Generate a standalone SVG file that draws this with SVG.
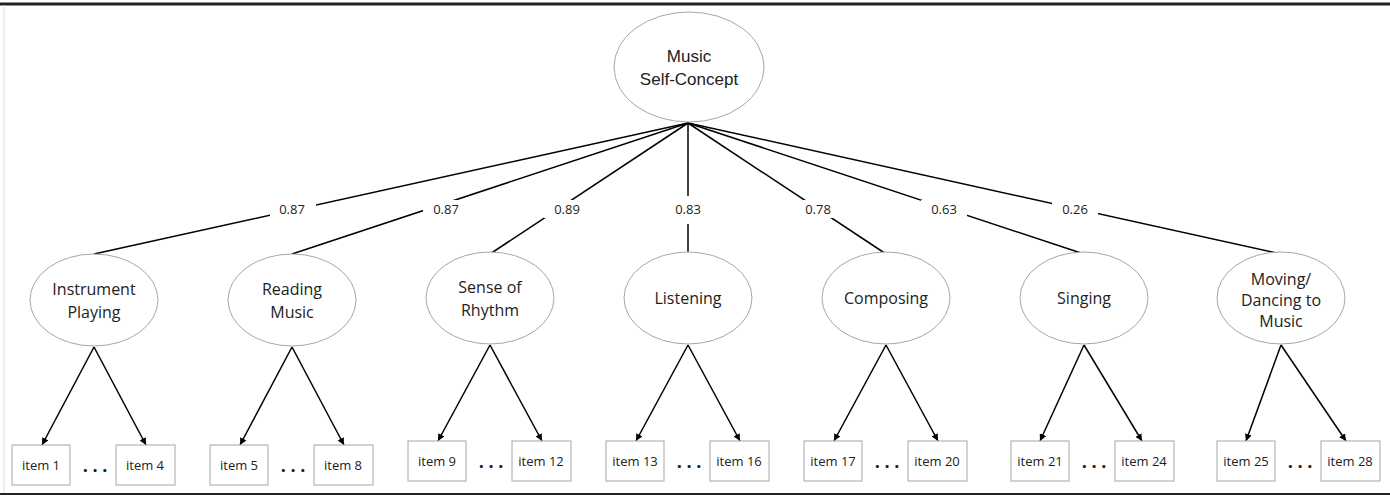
<svg xmlns="http://www.w3.org/2000/svg" width="1390" height="500" viewBox="0 0 1390 500">
<defs>
<marker id="ah" viewBox="0 0 10 10" refX="10" refY="5" markerWidth="7" markerHeight="7" orient="auto" markerUnits="userSpaceOnUse"><path d="M0,0 L10,5 L0,10 z" fill="#000"/></marker>
<style>
.el{fill:#fff;stroke:#a6a6a6;stroke-width:1}
.bx{fill:#fff;stroke:#a6a6a6;stroke-width:1}
.t{font-family:"Open Sans","Liberation Sans",sans-serif;fill:#222;text-anchor:middle}
.n{font-size:16px}
.r{font-size:17px;font-family:"Liberation Sans",sans-serif}
.i{font-size:13px}
.l{font-size:13px}
.d{font-size:18px;font-weight:bold}
.c line{stroke:#000;stroke-width:1.5}
.ar{stroke:#000;stroke-width:1.3;marker-end:url(#ah)}
.lb{fill:#fff}
</style>
</defs>
<rect width="1390" height="500" fill="#fff"/>
<line x1="0" y1="4" x2="1390" y2="4" stroke="#222" stroke-width="3"/>
<line x1="0" y1="494" x2="1390" y2="494" stroke="#222" stroke-width="2"/>
<line x1="4" y1="5" x2="4" y2="493" stroke="#ddd" stroke-width="1"/>
<g class="c" id="connectors">
<line x1="688" y1="123" x2="94" y2="254"/>
<line x1="688" y1="123" x2="292" y2="254"/>
<line x1="688" y1="123" x2="490" y2="254"/>
<line x1="688" y1="123" x2="688" y2="254"/>
<line x1="688" y1="123" x2="886" y2="254"/>
<line x1="688" y1="123" x2="1084" y2="254"/>
<line x1="688" y1="123" x2="1281" y2="254"/>
<rect class="lb" x="270" y="200" width="46" height="18"/><text class="t l" x="292" y="214">0.87</text>
<rect class="lb" x="423" y="200" width="46" height="18"/><text class="t l" x="446" y="214">0.87</text>
<rect class="lb" x="544" y="200" width="46" height="18"/><text class="t l" x="567" y="214">0.89</text>
<rect class="lb" x="666" y="196" width="44" height="28"/><text class="t l" x="688" y="214">0.83</text>
<rect class="lb" x="795" y="200" width="46" height="18"/><text class="t l" x="818" y="214">0.78</text>
<rect class="lb" x="921" y="200" width="46" height="18"/><text class="t l" x="944" y="214">0.63</text>
<rect class="lb" x="1052" y="200" width="46" height="18"/><text class="t l" x="1075" y="214">0.26</text>
<line class="ar" x1="94" y1="347" x2="42" y2="445"/><line class="ar" x1="94" y1="347" x2="146" y2="445"/>
<line class="ar" x1="292" y1="347" x2="240" y2="445"/><line class="ar" x1="292" y1="347" x2="344" y2="445"/>
<line class="ar" x1="490" y1="345" x2="438" y2="441"/><line class="ar" x1="490" y1="345" x2="542" y2="441"/>
<line class="ar" x1="688" y1="345" x2="636" y2="441"/><line class="ar" x1="688" y1="345" x2="740" y2="441"/>
<line class="ar" x1="886" y1="345" x2="834" y2="441"/><line class="ar" x1="886" y1="345" x2="938" y2="441"/>
<line class="ar" x1="1084" y1="345" x2="1040" y2="441"/><line class="ar" x1="1084" y1="345" x2="1142" y2="441"/>
<line class="ar" x1="1281" y1="345" x2="1246" y2="441"/><line class="ar" x1="1281" y1="345" x2="1346" y2="441"/>
</g>
<g id="root"><ellipse class="el" cx="689" cy="67" rx="75" ry="55"/><text class="t r" x="689" y="62">Music</text><text class="t r" x="689" y="85">Self-Concept</text></g>
<g id="f1"><ellipse class="el" cx="94" cy="300" rx="64" ry="46"/><text class="t n" x="94" y="295">Instrument</text><text class="t n" x="94" y="318">Playing</text></g>
<g id="f2"><ellipse class="el" cx="292" cy="300" rx="64" ry="46"/><text class="t n" x="292" y="295">Reading</text><text class="t n" x="292" y="318">Music</text></g>
<g id="f3"><ellipse class="el" cx="490" cy="298" rx="64" ry="46"/><text class="t n" x="490" y="293">Sense of</text><text class="t n" x="490" y="316">Rhythm</text></g>
<g id="f4"><ellipse class="el" cx="688" cy="298" rx="64" ry="46"/><text class="t n" x="688" y="304">Listening</text></g>
<g id="f5"><ellipse class="el" cx="886" cy="298" rx="64" ry="46"/><text class="t n" x="886" y="304">Composing</text></g>
<g id="f6"><ellipse class="el" cx="1084" cy="298" rx="64" ry="46"/><text class="t n" x="1084" y="304">Singing</text></g>
<g id="f7"><ellipse class="el" cx="1281" cy="298" rx="64" ry="46"/><text class="t n" x="1281" y="285">Moving/</text><text class="t n" x="1281" y="306">Dancing to</text><text class="t n" x="1281" y="327">Music</text></g>
<g id="items">
<rect class="bx" x="12" y="445" width="58" height="40"/><text class="t i" x="41" y="470">item 1</text>
<rect class="bx" x="116" y="445" width="59" height="40"/><text class="t i" x="145" y="470">item 4</text>
<text class="t d" x="95" y="472">. . .</text>
<rect class="bx" x="210" y="445" width="58" height="40"/><text class="t i" x="239" y="470">item 5</text>
<rect class="bx" x="314" y="445" width="59" height="40"/><text class="t i" x="343" y="470">item 8</text>
<text class="t d" x="293" y="472">. . .</text>
<rect class="bx" x="408" y="441" width="58" height="40"/><text class="t i" x="437" y="466">item 9</text>
<rect class="bx" x="512" y="441" width="59" height="40"/><text class="t i" x="541" y="466">item 12</text>
<text class="t d" x="491" y="468">. . .</text>
<rect class="bx" x="606" y="441" width="58" height="40"/><text class="t i" x="635" y="466">item 13</text>
<rect class="bx" x="710" y="441" width="59" height="40"/><text class="t i" x="739" y="466">item 16</text>
<text class="t d" x="689" y="468">. . .</text>
<rect class="bx" x="804" y="441" width="58" height="40"/><text class="t i" x="833" y="466">item 17</text>
<rect class="bx" x="908" y="441" width="59" height="40"/><text class="t i" x="937" y="466">item 20</text>
<text class="t d" x="887" y="468">. . .</text>
<rect class="bx" x="1011" y="441" width="58" height="40"/><text class="t i" x="1040" y="466">item 21</text>
<rect class="bx" x="1115" y="441" width="59" height="40"/><text class="t i" x="1144" y="466">item 24</text>
<text class="t d" x="1094" y="468">. . .</text>
<rect class="bx" x="1217" y="441" width="58" height="40"/><text class="t i" x="1246" y="466">item 25</text>
<rect class="bx" x="1321" y="441" width="59" height="40"/><text class="t i" x="1350" y="466">item 28</text>
<text class="t d" x="1300" y="468">. . .</text>
</g>
</svg>
